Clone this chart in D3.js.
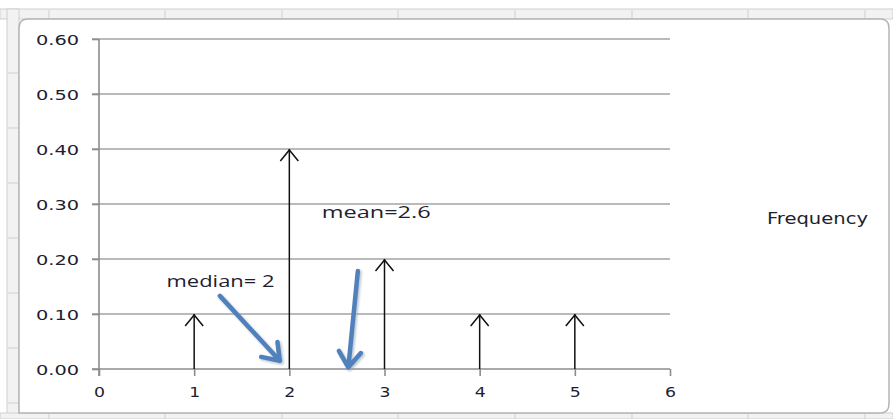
<!DOCTYPE html>
<html>
<head>
<meta charset="utf-8">
<script src="https://cdn.jsdelivr.net/npm/d3@7"></script>
<style>
  html, body { margin: 0; padding: 0; background: #ffffff; }
  svg { display: block; }
</style>
</head>
<body>
<svg id="chart" width="893" height="419"></svg>
<script>
// Probability distribution of the outcomes 1..5
const outcomes = [1, 2, 3, 4, 5];
const frequency = [0.10, 0.40, 0.20, 0.10, 0.10];
const yTickValues = [0, 0.1, 0.2, 0.3, 0.4, 0.5, 0.6];
const xTickValues = [0, 1, 2, 3, 4, 5, 6];
const seriesName = "Frequency";

// Callouts: label anchor, arrow start and arrow tip in data units
const calloutLabels = ["median= 2", "mean=2.6"];
const calloutLabelPos = [[0.71, 0.149], [2.34, 0.275]];
const calloutLabelWidth = [108, 109];
const calloutFrom = [[1.27, 0.133], [2.72, 0.178]];
const calloutTo = [[1.90, 0.015], [2.62, 0.003]];

const svg = d3.select("#chart");

// Worksheet surround
const sheet = svg.append("g");
sheet.append("rect").attr("x", 0).attr("y", 9).attr("width", 893).attr("height", 10)
  .attr("fill", "#f2f2f2").attr("stroke", "#d0d0d0");
sheet.append("rect").attr("x", 7).attr("y", 9).attr("width", 12).attr("height", 410)
  .attr("fill", "#f2f2f2").attr("stroke", "#d0d0d0");
sheet.append("rect").attr("x", 0).attr("y", 413).attr("width", 893).attr("height", 6)
  .attr("fill", "#f2f2f2").attr("stroke", "#d0d0d0");
[49, 165, 282, 398, 515, 632, 748, 865].forEach(x => {
  sheet.append("line").attr("x1", x).attr("x2", x).attr("y1", 10).attr("y2", 18)
    .attr("stroke", "#cfcfcf");
  sheet.append("line").attr("x1", x).attr("x2", x).attr("y1", 414).attr("y2", 419)
    .attr("stroke", "#cfcfcf");
});
[73, 128, 183, 238, 293, 348, 403].forEach(y => {
  sheet.append("line").attr("x1", 8).attr("x2", 18).attr("y1", y).attr("y2", y)
    .attr("stroke", "#cfcfcf");
});

// Chart area
svg.append("path")
  .attr("d", "M19,413 L19,28 Q19,19 28,19 L880,19 Q889,19 889,28 L889,404 Q889,413 880,413 Z")
  .attr("fill", "#ffffff").attr("stroke", "#b4b4b4").attr("stroke-width", 1.5);

const x = d3.scaleLinear().domain([0, 6]).range([99, 670]);
const y = d3.scaleLinear().domain([0, 0.6]).range([369, 39]);

// Horizontal gridlines
svg.append("g")
  .selectAll("line")
  .data(yTickValues.filter(v => v > 0))
  .join("line")
  .attr("x1", x(0) - 7).attr("x2", x(6))
  .attr("y1", d => y(d)).attr("y2", d => y(d))
  .attr("stroke", "#a3a3a3").attr("stroke-width", 1.6);

// Y axis
const yAxis = svg.append("g")
  .attr("transform", `translate(${x(0)},0)`)
  .call(d3.axisLeft(y).tickValues(yTickValues).tickFormat(d3.format(".2f"))
    .tickSize(7).tickPadding(13));
yAxis.select(".domain").attr("stroke", "#8c8c8c").attr("stroke-width", 1.6)
  .attr("d", `M0,${y(0.6)}V${y(0) + 7}`);
yAxis.selectAll(".tick line").attr("stroke", "#8c8c8c").attr("stroke-width", 1.6);
yAxis.selectAll(".tick text")
  .attr("font-family", "DejaVu Sans").attr("font-size", 14).attr("fill", "#1e1e30")
  .attr("textLength", 43).attr("lengthAdjust", "spacingAndGlyphs")
  .attr("dy", "0.36em");

// X axis
const xAxis = svg.append("g")
  .attr("transform", `translate(0,${y(0)})`)
  .call(d3.axisBottom(x).tickValues(xTickValues).tickFormat(d3.format("d"))
    .tickSize(7).tickPadding(11));
xAxis.select(".domain").attr("stroke", "#8c8c8c").attr("stroke-width", 1.6)
  .attr("d", `M${x(0) - 7},0H${x(6)}`);
xAxis.selectAll(".tick line").attr("stroke", "#8c8c8c").attr("stroke-width", 1.6);
xAxis.selectAll(".tick text")
  .attr("font-family", "DejaVu Sans").attr("font-size", 14).attr("fill", "#1e1e30")
  .attr("textLength", 11).attr("lengthAdjust", "spacingAndGlyphs");

// Frequency spikes with open arrowheads
const spikes = svg.append("g").attr("stroke", "#111111").attr("fill", "none")
  .attr("stroke-width", 1.5);
outcomes.forEach((o, i) => {
  const px = x(o), py = y(frequency[i]);
  spikes.append("line").attr("x1", px).attr("x2", px).attr("y1", y(0)).attr("y2", py);
  spikes.append("path").attr("d", `M${px - 9},${py + 12}L${px},${py + 1}L${px + 9},${py + 12}`);
});

// Legend entry
svg.append("text")
  .attr("x", 767).attr("y", 224)
  .attr("font-family", "DejaVu Sans").attr("font-size", 15).attr("fill", "#1e1e30")
  .attr("textLength", 101).attr("lengthAdjust", "spacingAndGlyphs")
  .text(seriesName);

// Callout arrows
const defs = svg.append("defs");
const shadow = defs.append("filter").attr("id", "soft").attr("x", "-20%").attr("y", "-20%")
  .attr("width", "140%").attr("height", "140%");
shadow.append("feGaussianBlur").attr("stdDeviation", 1.2);

calloutFrom.forEach((from, i) => {
  const x1 = x(from[0]), y1 = y(from[1]);
  const x2 = x(calloutTo[i][0]), y2 = y(calloutTo[i][1]);
  const ang = Math.atan2(y2 - y1, x2 - x1);
  const len = 19, spread = 0.62;
  const wa = [ang + Math.PI - spread, ang + Math.PI + spread]
    .map(a => [x2 + len * Math.cos(a), y2 + len * Math.sin(a)]);
  const d = `M${x1},${y1}L${x2},${y2}M${wa[0][0]},${wa[0][1]}L${x2},${y2}L${wa[1][0]},${wa[1][1]}`;
  svg.append("path").attr("d", d).attr("transform", "translate(1.5,1.5)")
    .attr("fill", "none").attr("stroke", "#9aa6b4").attr("stroke-width", 5)
    .attr("stroke-linecap", "round").attr("stroke-linejoin", "round")
    .attr("opacity", 0.6).attr("filter", "url(#soft)");
  svg.append("path").attr("d", d)
    .attr("fill", "none").attr("stroke", "#4f81bd").attr("stroke-width", 4.5)
    .attr("stroke-linecap", "round").attr("stroke-linejoin", "round");
});

// Callout labels
calloutLabels.forEach((t, i) => {
  svg.append("text")
    .attr("x", x(calloutLabelPos[i][0])).attr("y", y(calloutLabelPos[i][1]))
    .attr("font-family", "Open Sans").attr("font-size", 17).attr("fill", "#1e1e30")
    .attr("textLength", calloutLabelWidth[i]).attr("lengthAdjust", "spacingAndGlyphs")
    .text(t);
});
</script>
</body>
</html>
